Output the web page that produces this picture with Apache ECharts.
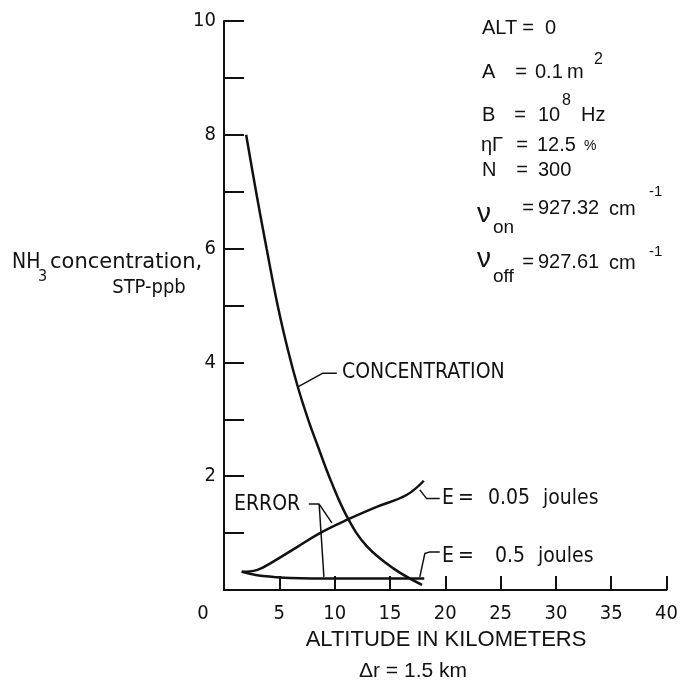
<!DOCTYPE html>
<html>
<head>
<meta charset="utf-8">
<script src="https://cdn.jsdelivr.net/npm/echarts@6/dist/echarts.min.js"></script>
<style>
  html, body { margin: 0; padding: 0; background: #fff; }
  #chart { width: 681px; height: 682px; }
</style>
</head>
<body>
<div id="chart"></div>
<script>
// NH3 concentration and errors vs altitude
const concAlt = [2, 2.9, 3.85, 4.85, 5.8, 6.7, 7.6, 8.4, 9.7, 11.2, 12.9, 15.3, 17.9]
const concVal = [8, 7.0, 6.0, 5.0, 4.2, 3.55, 3.0, 2.57, 1.9, 1.26, 0.77, 0.38, 0.09]

const err005Alt = [1.6, 2.95, 4.45, 6.56, 8.67, 11.2, 13.8, 16.5, 18.06]
const err005Val = [0.32, 0.35, 0.50, 0.75, 1.0, 1.24, 1.46, 1.67, 1.92]

const err05Alt = [1.6, 3.0, 4.5, 6.0, 10, 14, 18.1]
const err05Val = [0.32, 0.26, 0.23, 0.21, 0.2, 0.2, 0.2]

const xTicks = [0, 40, 5]   // min, max, step
const yTicks = [0, 10, 1]

// leader lines for the labels (axis units)
const leaderConc = [[6.68, 3.57], [8.94, 3.81], [10.2, 3.81]]
const leaderErrA = [[7.67, 1.51], [8.6, 1.51], [9.75, 1.18]]
const leaderErrB = [[8.6, 1.51], [9.03, 0.23]]
const leaderE005 = [[17.7, 1.76], [18.3, 1.61], [19.5, 1.61]]
const leaderE05 = [[17.7, 0.23], [18.15, 0.64], [18.6, 0.67], [19.5, 0.67]]

const NARROW = '"DejaVu Sans Condensed", "Liberation Sans Narrow", sans-serif'
const SANS = '"Liberation Sans", Arial, sans-serif'

function zip(xs, ys) {
  return xs.map((x, i) => [x, ys[i]])
}

function curve(data) {
  return {
    type: 'line',
    data: data,
    smooth: 0.4,
    symbol: 'none',
    silent: true,
    lineStyle: { color: '#111', width: 2.5 },
  }
}

function leader(data) {
  return {
    type: 'line',
    data: data,
    symbol: 'none',
    silent: true,
    lineStyle: { color: '#111', width: 1.5 },
  }
}

function txt(x, y, text, size, font, align) {
  return {
    type: 'text',
    x: x,
    y: y,
    silent: true,
    style: {
      text: text,
      fill: '#111',
      font: size + 'px ' + (font || NARROW),
      textAlign: align || 'left',
      textVerticalAlign: 'middle',
    },
  }
}

let myChart = echarts.init(document.getElementById('chart'))
let options = {
  animation: false,
  backgroundColor: '#fff',
  grid: {
    left: 224,
    right: 14,
    top: 21,
    bottom: 92,
  },
  xAxis: {
    type: 'value',
    min: xTicks[0],
    max: xTicks[1],
    interval: xTicks[2],
    axisLine: { lineStyle: { color: '#111', width: 2 } },
    axisTick: { inside: true, length: 14, lineStyle: { color: '#111', width: 2 } },
    splitLine: { show: false },
    axisLabel: {
      color: '#111',
      fontFamily: NARROW,
      fontSize: 20,
      margin: 14,
      formatter: (v) => (v === 0 ? '{o|0}' : String(v)),
      rich: {
        o: { fontFamily: NARROW, fontSize: 20, color: '#111', padding: [0, 42, 0, 0] },
      },
    },
  },
  yAxis: {
    type: 'value',
    min: yTicks[0],
    max: yTicks[1],
    interval: yTicks[2],
    axisLine: { show: true, lineStyle: { color: '#111', width: 2 } },
    axisTick: { show: true, inside: true, length: 20, lineStyle: { color: '#111', width: 2 } },
    splitLine: { show: false },
    axisLabel: {
      color: '#111',
      fontFamily: NARROW,
      fontSize: 20,
      margin: 8,
      formatter: (v) => (v > 0 && v % 2 === 0 ? String(v) : ''),
    },
  },
  series: [
    curve(zip(concAlt, concVal)),
    curve(zip(err005Alt, err005Val)),
    curve(zip(err05Alt, err05Val)),
    leader(leaderConc),
    leader(leaderErrA),
    leader(leaderErrB),
    leader(leaderE005),
    leader(leaderE05),
  ],
  graphic: [
    // y axis name
    txt(12, 263, 'NH', 21),
    txt(38, 277, '3', 16),
    txt(50, 263, 'concentration,', 21, '"DejaVu Sans"'),
    txt(149, 288, 'STP-ppb', 20, NARROW, 'center'),
    // x axis name
    txt(446, 640, 'ALTITUDE IN KILOMETERS', 22, SANS, 'center'),
    txt(413, 671, 'Δr = 1.5 km', 21, SANS, 'center'),
    // curve labels
    txt(342, 373, 'CONCENTRATION', 21),
    txt(234, 505, 'ERROR', 21),
    txt(442, 499, 'E', 21),
    txt(458, 499, '=', 21),
    txt(488, 499, '0.05', 21),
    txt(543, 499, 'joules', 21),
    txt(442, 557, 'E', 21),
    txt(458, 557, '=', 21),
    txt(495, 557, '0.5', 21),
    txt(538, 557, 'joules', 21),
    // parameter block
    txt(482, 28, 'ALT', 20, SANS),
    txt(528, 28, '=', 20, SANS, 'center'),
    txt(545, 28, '0', 20, SANS),
    txt(482, 72, 'A', 20, SANS),
    txt(521, 72, '=', 20, SANS, 'center'),
    txt(535, 72, '0.1', 20, SANS),
    txt(567, 72, 'm', 20, SANS),
    txt(594, 60, '2', 16, SANS),
    txt(482, 115, 'B', 20, SANS),
    txt(520, 115, '=', 20, SANS, 'center'),
    txt(538, 115, '10', 20, SANS),
    txt(562, 101, '8', 16, SANS),
    txt(581, 115, 'Hz', 20, SANS),
    txt(481, 145, 'ηΓ', 20, SANS),
    txt(522, 145, '=', 20, SANS, 'center'),
    txt(537, 145, '12.5', 20, SANS),
    txt(584, 146, '%', 14, SANS),
    txt(482, 170, 'N', 20, SANS),
    txt(522, 170, '=', 20, SANS, 'center'),
    txt(538, 170, '300', 20, SANS),
    txt(477, 214, 'ν', 28, SANS),
    txt(493, 228, 'on', 19, SANS),
    txt(528, 208, '=', 20, SANS, 'center'),
    txt(538, 208, '927.32', 20, SANS),
    txt(609, 209, 'cm', 20, SANS),
    txt(649, 192, '-1', 15, SANS),
    txt(477, 259, 'ν', 28, SANS),
    txt(493, 277, 'off', 19, SANS),
    txt(528, 262, '=', 20, SANS, 'center'),
    txt(538, 262, '927.61', 20, SANS),
    txt(609, 263, 'cm', 20, SANS),
    txt(649, 252, '-1', 15, SANS),
  ],
}
myChart.setOption(options)
window.addEventListener('resize', () => {
  myChart.resize()
})
</script>
</body>
</html>
